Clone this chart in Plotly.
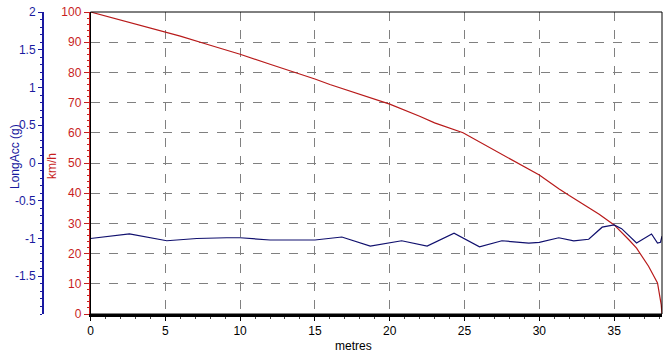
import plotly.graph_objects as go

# ---- data ----
dist_speed = [0, 2, 4, 5, 6, 8, 10, 12, 14, 15, 16, 18, 20, 22, 23, 24.9, 26, 28, 30,
              31.3, 32, 34, 35, 36, 36.5, 37.3, 37.9, 38.15, 38.2]
speed_kmh = [100, 97.3, 94.8, 93.3, 92, 89, 86, 82.7, 79.6, 77.8, 76, 72.8, 69.5, 65.5,
             63.3, 60, 57, 51.5, 46, 41.5, 39.2, 33, 29.5, 24.5, 21.8, 15.8, 10.3, 3, 0]

dist_acc = [0, 2.6, 5.1, 7.1, 9.1, 10, 12, 15, 16.8, 18.7, 20.8, 22.5, 24.3, 26, 27.5,
            29.3, 30, 31.3, 32.3, 33.3, 34.2, 35, 35.5, 36.5, 37.5, 37.9, 38.1, 38.2]
long_acc_g = [-1.0, -0.94, -1.03, -1.0, -0.99, -0.99, -1.02, -1.02, -0.98, -1.1, -1.03,
              -1.1, -0.93, -1.11, -1.03, -1.06, -1.05, -0.99, -1.03, -1.01, -0.85, -0.82,
              -0.87, -1.06, -0.94, -1.06, -1.05, -0.97]

acc_ticks = [-1.5, -1, -0.5, 0, 0.5, 1, 1.5, 2]
acc_tick_text = ["-1.5", "-1", "-0.5", "0", "0.5", "1", "1.5", "2"]

RED = "#c81e1e"
LINE_RED = "#b81a1a"
BLUE = "#1a1aa0"
LINE_BLUE = "#10106e"
FONT = "Liberation Sans, Arial, sans-serif"

W, H = 672, 354
ML, MR, MT, MB = 43, 10, 12, 40
PW, PH = W - ML - MR, H - MT - MB

fig = go.Figure()
fig.add_trace(go.Scatter(x=dist_speed, y=speed_kmh, mode="lines",
                         line=dict(color=LINE_RED, width=1.2), yaxis="y", name="km/h"))
fig.add_trace(go.Scatter(x=dist_acc, y=long_acc_g, mode="lines",
                         line=dict(color=LINE_BLUE, width=1.2), yaxis="y2", name="LongAcc (g)"))

x0 = (90.5 - ML) / PW

fig.update_layout(
    width=W, height=H, autosize=False,
    margin=dict(l=ML, r=MR, t=MT, b=MB, autoexpand=False),
    paper_bgcolor="white", plot_bgcolor="white",
    showlegend=False,
    font=dict(family=FONT, size=12, color="black"),
    xaxis=dict(
        domain=[x0, 1], range=[0, 38.2], dtick=5, tick0=0,
        showgrid=True, gridcolor="#808080", griddash="dash", gridwidth=1,
        showline=True, linecolor="black", linewidth=2.5,
        ticks="outside", ticklen=4, tickcolor="black",
        minor=dict(dtick=1, ticks="outside", ticklen=2, tickcolor="#404040", showgrid=False),
        zeroline=False, automargin=False,
        tickfont=dict(size=12, color="black"),
    ),
    yaxis=dict(
        range=[0, 100], dtick=10, tick0=0, anchor="x", side="left",
        showgrid=True, gridcolor="#808080", griddash="dash", gridwidth=1,
        showline=True, linecolor=RED, linewidth=1.5,
        ticks="outside", ticklen=5, tickcolor=RED,
        minor=dict(dtick=2, ticks="outside", ticklen=2, tickcolor=RED, showgrid=False),
        zeroline=False, automargin=False,
        tickfont=dict(size=12, color=RED),
    ),
    yaxis2=dict(
        range=[-2, 2], overlaying="y", anchor="free", position=0, side="left",
        tickvals=acc_ticks, ticktext=acc_tick_text,
        showgrid=False, zeroline=False,
        showline=True, linecolor=BLUE, linewidth=2,
        ticks="outside", ticklen=4, tickcolor=BLUE,
        minor=dict(dtick=0.1, ticks="outside", ticklen=2, tickcolor=BLUE, showgrid=False),
        automargin=False,
        tickfont=dict(size=12, color=BLUE),
    ),
    shapes=[dict(type="rect", xref="x domain", yref="y domain", x0=0, x1=1, y0=0, y1=1,
                 line=dict(color="black", width=1), fillcolor="rgba(0,0,0,0)", layer="above")],
    annotations=[
        dict(text="LongAcc (g)", textangle=-90, xref="paper", yref="paper",
             x=(15 - ML) / PW, y=(H - MB - 157) / PH, showarrow=False,
             xanchor="center", yanchor="middle", font=dict(size=12, color=BLUE)),
        dict(text="km/h", textangle=-90, xref="paper", yref="paper",
             x=(52 - ML) / PW, y=(H - MB - 166) / PH, showarrow=False,
             xanchor="center", yanchor="middle", font=dict(size=12, color=RED)),
        dict(text="metres", xref="paper", yref="paper",
             x=(353 - ML) / PW, y=(H - MB - 346) / PH, showarrow=False,
             xanchor="center", yanchor="middle", font=dict(size=12, color="black")),
    ],
)

fig.write_html("out.html")
